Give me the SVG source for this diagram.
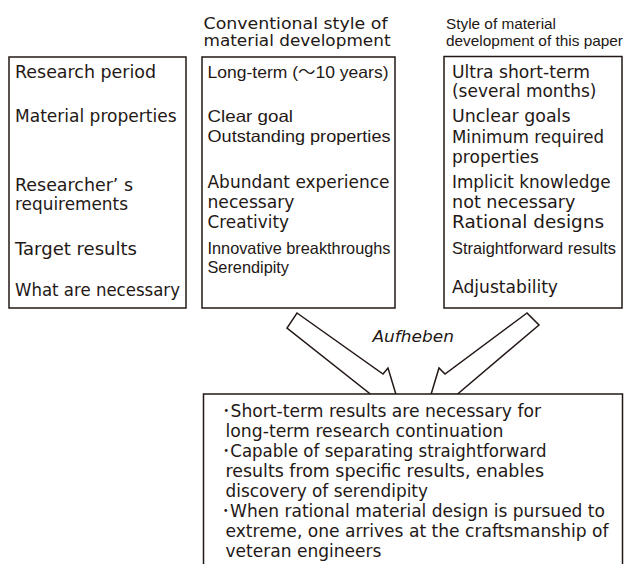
<svg xmlns="http://www.w3.org/2000/svg" width="625" height="564" viewBox="0 0 625 564">
<style>
.box{fill:#fff;stroke:#231815;stroke-width:1.5}
.arr{fill:#fff;stroke:#231815;stroke-width:1.5;stroke-linejoin:miter}
text{fill:#231815}
.g{font-family:"DejaVu Sans","Liberation Sans","Noto Sans CJK JP",sans-serif;font-size:17px}
.c{font-family:"Liberation Sans","Noto Sans CJK JP",sans-serif;font-size:16.5px}
.h{font-family:"DejaVu Sans","Liberation Sans",sans-serif;font-size:15px}
.hc{font-family:"Liberation Sans",sans-serif;font-size:15px}
.it{font-family:"DejaVu Sans","Liberation Sans",sans-serif;font-size:16.5px;font-style:italic}
</style>
<rect width="625" height="564" fill="#fff"/>

<g id="header-conventional">
<text class="h" x="203.5" y="29" textLength="184" lengthAdjust="spacingAndGlyphs">Conventional style of</text>
<text class="h" x="203.5" y="45.5" textLength="187" lengthAdjust="spacingAndGlyphs">material development</text>
</g>
<g id="header-paper">
<text class="hc" x="446" y="28.5" textLength="110" lengthAdjust="spacingAndGlyphs">Style of material</text>
<text class="hc" x="446" y="46" textLength="177" lengthAdjust="spacingAndGlyphs">development of this paper</text>
</g>

<g id="box-criteria">
<rect class="box" x="9" y="57" width="177" height="251"/>
<text class="g" x="15" y="78" textLength="141" lengthAdjust="spacingAndGlyphs">Research period</text>
<text class="g" x="15" y="121.7" textLength="161.5" lengthAdjust="spacingAndGlyphs">Material properties</text>
<text class="g" x="15" y="190.5" textLength="118" lengthAdjust="spacingAndGlyphs">Researcher’ s</text>
<text class="g" x="15" y="210" textLength="113" lengthAdjust="spacingAndGlyphs">requirements</text>
<text class="g" x="15" y="255" textLength="122" lengthAdjust="spacingAndGlyphs">Target results</text>
<text class="g" x="15" y="296" textLength="165" lengthAdjust="spacingAndGlyphs">What are necessary</text>
</g>

<g id="box-conventional">
<rect class="box" x="202" y="57" width="193" height="251"/>
<text class="c" x="207.5" y="78" textLength="181" lengthAdjust="spacingAndGlyphs">Long-term (～10 years)</text>
<text class="c" x="207.5" y="121.7" textLength="85.5" lengthAdjust="spacingAndGlyphs">Clear goal</text>
<text class="c" x="207.5" y="141.7" textLength="183" lengthAdjust="spacingAndGlyphs">Outstanding properties</text>
<text class="g" x="207.5" y="188.3" textLength="182" lengthAdjust="spacingAndGlyphs">Abundant experience</text>
<text class="g" x="207.5" y="207.5" textLength="87" lengthAdjust="spacingAndGlyphs">necessary</text>
<text class="g" x="207.5" y="228.3" textLength="81.5" lengthAdjust="spacingAndGlyphs">Creativity</text>
<text class="c" x="207.5" y="254" textLength="183" lengthAdjust="spacingAndGlyphs">Innovative breakthroughs</text>
<text class="c" x="207.5" y="273.3" textLength="81.5" lengthAdjust="spacingAndGlyphs">Serendipity</text>
</g>

<g id="box-paper">
<rect class="box" x="444" y="56.5" width="178" height="251.5"/>
<text class="g" x="452" y="77.5" textLength="138" lengthAdjust="spacingAndGlyphs">Ultra short-term</text>
<text class="g" x="452" y="97" textLength="144.5" lengthAdjust="spacingAndGlyphs">(several months)</text>
<text class="g" x="452" y="121.7" textLength="118.5" lengthAdjust="spacingAndGlyphs">Unclear goals</text>
<text class="g" x="452" y="142.7" textLength="152" lengthAdjust="spacingAndGlyphs">Minimum required</text>
<text class="g" x="452" y="162.7" textLength="87" lengthAdjust="spacingAndGlyphs">properties</text>
<text class="g" x="452" y="188.3" textLength="158.5" lengthAdjust="spacingAndGlyphs">Implicit knowledge</text>
<text class="g" x="452" y="208.3" textLength="123.5" lengthAdjust="spacingAndGlyphs">not necessary</text>
<text class="g" x="452" y="228.3" textLength="152" lengthAdjust="spacingAndGlyphs">Rational designs</text>
<text class="c" x="452" y="254" textLength="164" lengthAdjust="spacingAndGlyphs">Straightforward results</text>
<text class="g" x="452" y="293.3" textLength="106" lengthAdjust="spacingAndGlyphs">Adjustability</text>
</g>

<g id="connectors">
<polygon class="arr" points="297,313 383,374 388,368 396,394.5 371,394.5 287,328"/>
<polygon class="arr" points="527,313 445,374 439,368 431,394.5 457,394.5 539,325"/>
<text class="it" x="372.5" y="341.7" textLength="81.5" lengthAdjust="spacingAndGlyphs">Aufheben</text>
</g>

<g id="box-result">
<rect class="box" x="203.5" y="394" width="419" height="200"/>
<text class="g" x="222" y="417" textLength="319" lengthAdjust="spacingAndGlyphs">･Short-term results are necessary for</text>
<text class="g" x="225.5" y="437" textLength="278" lengthAdjust="spacingAndGlyphs">long-term research continuation</text>
<text class="g" x="222" y="457" textLength="324.5" lengthAdjust="spacingAndGlyphs">･Capable of separating straightforward</text>
<text class="g" x="225.5" y="477" textLength="318.5" lengthAdjust="spacingAndGlyphs">results from specific results, enables</text>
<text class="g" x="225.5" y="497" textLength="202.5" lengthAdjust="spacingAndGlyphs">discovery of serendipity</text>
<text class="g" x="221.5" y="517" textLength="383.5" lengthAdjust="spacingAndGlyphs">･When rational material design is pursued to</text>
<text class="g" x="225.5" y="537" textLength="383" lengthAdjust="spacingAndGlyphs">extreme, one arrives at the craftsmanship of</text>
<text class="g" x="225.5" y="557" textLength="156" lengthAdjust="spacingAndGlyphs">veteran engineers</text>
</g>
</svg>
